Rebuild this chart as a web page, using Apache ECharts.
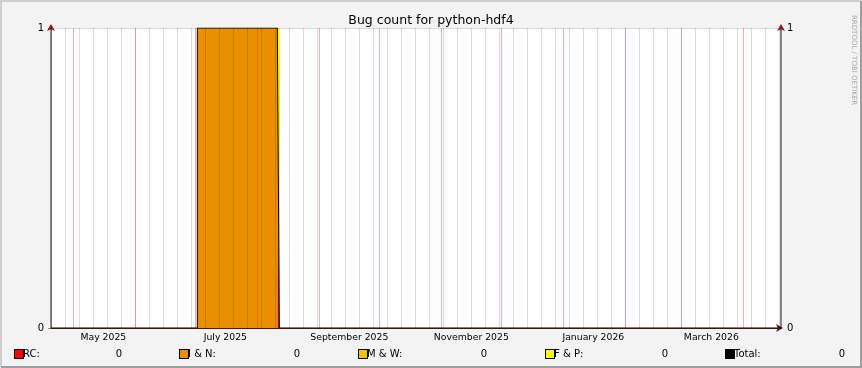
<!DOCTYPE html>
<html><head><meta charset="utf-8">
<script src="https://cdn.jsdelivr.net/npm/echarts@6/dist/echarts.min.js"></script>
<style>html,body{margin:0;padding:0;background:#f3f3f3}#c{width:862px;height:368px}</style>
</head><body><div id="c"></div>
<script>
// ---- data ----
const rangeStart = '2025-04-19 20:00';
const rangeEnd = '2026-04-19 20:00';
const times = ['2025-04-19 20:00', '2025-07-02', '2025-08-11', '2025-08-12', '2026-04-19 20:00'];
const seriesNames = ['RC', 'I & N', 'M & W', 'F & P', 'Total'];
const rcValues = [0, 0, 1, 0, 0];
const inValues = [0, 1, 0, 0, 0];
const mwValues = [0, 0, 0, 0, 0];
const fpValues = [0, 0, 0, 0, 0];
const totalValues = [0, 1, 1, 0, 0];
const monthLabelDates = ['2025-05-16', '2025-07-16', '2025-09-16', '2025-11-16', '2026-01-16', '2026-03-16'];
const monthLineDates = ['2025-05-01', '2025-06-01', '2025-07-01', '2025-08-01', '2025-09-01', '2025-10-01',
  '2025-11-01', '2025-12-01', '2026-01-01', '2026-02-01', '2026-03-01', '2026-04-01'];
const firstWeekLine = '2025-04-20';
const yTickValues = [0, 1];
const monthNames = ['January', 'February', 'March', 'April', 'May', 'June', 'July', 'August', 'September', 'October', 'November', 'December'];

// ---- helpers ----
function ts(s) {
  const parts = s.split(' ');
  const d = parts[0].split('-').map(Number);
  const t = (parts[1] || '00:00').split(':').map(Number);
  return new Date(d[0], d[1] - 1, d[2], t[0], t[1]).getTime();
}
const minT = ts(rangeStart), maxT = ts(rangeEnd);
const weekLines = [];
for (let w = ts(firstWeekLine); w <= maxT; ) {
  weekLines.push(w);
  const dt = new Date(w); dt.setDate(dt.getDate() + 7); w = dt.getTime();
}
const toData = vals => times.map((t, i) => [ts(t), vals[i]]);
const FONT = 'DejaVu Sans';
const colors = ['#ff0000', '#ea8f00', '#ecc700', '#ffff00', '#000000'];
const valuesList = [rcValues, inValues, mwValues, fpValues, totalValues];
const boxX = [15, 180, 359, 546, 726];
const valueRight = [123, 301, 488, 669, 846];

const chart = echarts.init(document.getElementById('c'), null, {renderer: 'canvas'});

const gridLineAxis = (vals, color) => ({
  type: 'value', min: minT, max: maxT, position: 'bottom', z: 3, scale: true,
  axisLine: {show: false}, axisLabel: {show: false}, splitLine: {show: false},
  axisTick: {show: true, inside: true, length: 300, customValues: vals, lineStyle: {color: color, width: 1}}
});

const legends = seriesNames.map((name, i) => {
  const vals = valuesList[i];
  const cur = vals[vals.length - 1];
  const nW = valueRight[i] - boxX[i] - 9 - 10;
  return {
    data: [name], left: boxX[i] - 5, top: 348, icon: 'rect', itemWidth: 0, itemHeight: 0,
    selectedMode: false, padding: 0,
    formatter: n => '{b| }{n|' + n + ':}{v|' + cur + '}',
    textStyle: {
      fontFamily: FONT, fontSize: 10, color: '#000', lineHeight: 12,
      rich: {
        b: {width: 8, height: 8, backgroundColor: colors[i], borderColor: '#000', borderWidth: 1},
        n: {width: nW, fontFamily: FONT, fontSize: 10, color: '#000'},
        v: {width: 10, align: 'right', fontFamily: FONT, fontSize: 10, color: '#000'}
      }
    }
  };
});

const yBase = {type: 'value', min: 0, max: 1, interval: 0.2, z: 3};

chart.setOption({
  animation: false,
  backgroundColor: '#f3f3f3',
  title: {text: 'Bug count for python-hdf4', left: 'center', top: 9,
    textStyle: {fontFamily: FONT, fontSize: 12.5, fontWeight: 'normal', color: '#000'}},
  grid: {left: 51, right: 81, top: 28, bottom: 40, show: true, backgroundColor: '#ffffff', borderWidth: 0},
  legend: legends,
  xAxis: [
    {
      type: 'time', min: minT, max: maxT, position: 'bottom', z: 4,
      axisLine: {show: true, lineStyle: {color: '#5a1414', width: 1},
        symbol: ['none', 'arrow'], symbolSize: [6, 7], symbolOffset: [0, 2]},
      axisTick: {show: false}, splitLine: {show: false}, axisLabel: {show: false}
    },
    {
      type: 'value', min: minT, max: maxT, position: 'bottom', z: 4, scale: true,
      axisLine: {show: false}, axisTick: {show: false}, splitLine: {show: false},
      axisLabel: {
        customValues: monthLabelDates.map(ts), margin: 5,
        fontFamily: FONT, fontSize: 9.3, color: '#000',
        formatter: v => { const d = new Date(v); return monthNames[d.getMonth()] + ' ' + d.getFullYear(); }
      }
    },
    gridLineAxis(weekLines, 'rgba(0,0,0,0.14)'),
    gridLineAxis(monthLineDates.map(ts), 'rgba(222,48,48,0.38)')
  ],
  yAxis: [
    Object.assign({}, yBase, {
      position: 'left',
      axisLine: {show: true, lineStyle: {color: '#858585', width: 2}},
      axisTick: {show: true, customValues: yTickValues, length: 3, lineStyle: {color: '#858585'}},
      axisLabel: {customValues: yTickValues, margin: 7, fontFamily: FONT, fontSize: 10, color: '#000'},
      splitLine: {show: true, lineStyle: {width: 1, color: ['rgba(0,0,0,0.14)', 'rgba(0,0,0,0.14)', 'rgba(0,0,0,0.14)', 'rgba(0,0,0,0.14)', 'rgba(0,0,0,0.14)', 'rgba(222,48,48,0.38)']}}
    }),
    Object.assign({}, yBase, {
      position: 'right',
      axisLine: {show: true, lineStyle: {color: '#858585', width: 2}},
      axisTick: {show: false},
      axisLabel: {customValues: yTickValues, margin: 6, fontFamily: FONT, fontSize: 10, color: '#000'},
      splitLine: {show: false}
    }),
    Object.assign({}, yBase, {
      position: 'left', z: 5,
      axisLine: {show: true, lineStyle: {color: '#8b1a1a', width: 0}, symbol: ['none', 'arrow'], symbolSize: [6, 7], symbolOffset: [0, 4]},
      axisTick: {show: false}, axisLabel: {show: false}, splitLine: {show: false}
    }),
    Object.assign({}, yBase, {
      position: 'right', z: 5,
      axisLine: {show: true, lineStyle: {color: '#8b1a1a', width: 0}, symbol: ['none', 'arrow'], symbolSize: [6, 7], symbolOffset: [0, 4]},
      axisTick: {show: false}, axisLabel: {show: false}, splitLine: {show: false}
    })
  ],
  series: seriesNames.map((name, i) => {
    const base = {name: name, type: 'line', xAxisIndex: 0, yAxisIndex: 0, step: 'end',
      showSymbol: false, symbol: 'none', data: toData(valuesList[i]), color: colors[i]};
    if (name === 'Total') {
      return Object.assign(base, {z: 5, lineStyle: {color: '#000', width: 1}});
    }
    return Object.assign(base, {stack: 'bugs', z: 2, lineStyle: {width: 0},
      areaStyle: {color: colors[i], opacity: 1}});
  }),
  graphic: [
    {type: 'polyline', silent: true, shape: {points: [[1, 367], [1, 1], [861, 1]]}, style: {stroke: '#cfcfcf', lineWidth: 2, fill: null}},
    {type: 'polyline', silent: true, shape: {points: [[861, 1], [861, 367], [1, 367]]}, style: {stroke: '#9e9e9e', lineWidth: 2, fill: null}},
    {type: 'text', silent: true, x: 857, y: 15, rotation: -Math.PI / 2,
      style: {text: 'RRDTOOL / TOBI OETIKER', fill: '#a8a8a8', fontFamily: FONT, fontSize: 7, textAlign: 'left', textVerticalAlign: 'top'}}
  ]
});
</script>
</body></html>
